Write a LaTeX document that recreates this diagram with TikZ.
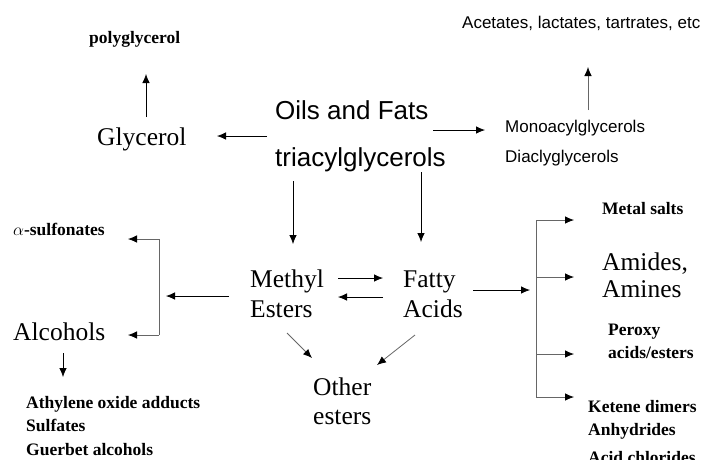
\documentclass[tikz,border=0pt]{standalone}
\usepackage{fontspec}
\setmainfont{Liberation Serif}
\newfontfamily\arialf{Liberation Sans}
\usetikzlibrary{arrows.meta}
\newcommand\lns[2]{\vtop{\baselineskip=#1\relax\lineskiplimit=-100pt\lineskip=0pt #2}}
\tikzset{
  lbl/.style={inner sep=0pt, anchor=base west},
  bigserif/.style={lbl, font=\fontsize{25.5}{30}\selectfont},
  bigsans/.style={lbl, font=\arialf\fontsize{26}{30}\selectfont},
  smallsans/.style={lbl, font=\arialf\fontsize{17}{22}\selectfont},
  smallbold/.style={lbl, font=\fontsize{17.5}{22.5}\selectfont\bfseries},
  arr/.style={line width=0.8pt, -{Latex[length=9pt,width=7.5pt,color=black]}},
  greyarr/.style={arr, draw=black!60},
  greyline/.style={line width=0.8pt, draw=black!60},
}
\begin{document}
\begin{tikzpicture}[x=1pt,y=-1pt]
\useasboundingbox[fill=white] (0,0) rectangle (701,459);
% labels
\node[smallbold] (poly) at (89,43) {polyglycerol};
\node[bigserif] (glyc) at (97,145) {Glycerol};
\node[bigsans] (oils) at (275,119) {Oils and Fats};
\node[bigsans] (tri) at (275,166) {triacylglycerols};
\node[smallsans] (acet) at (462,28) {Acetates, lactates, tartrates, etc};
\node[smallsans] (mono) at (505,132) {Monoacylglycerols};
\node[smallsans] (dia) at (505,162) {Diaclyglycerols};
\node[smallbold] (sulf) at (13,235) {$\alpha$-sulfonates};
\node[bigserif] (alc) at (13,340) {Alcohols};
\node[smallbold] (athy) at (26,408) {\lns{23.5pt}{\hbox{Athylene oxide adducts}\hbox{Sulfates}\hbox{Guerbet alcohols}}};
\node[bigserif] (meth) at (250,287) {\lns{30pt}{\hbox{Methyl}\hbox{Esters}}};
\node[bigserif] (fatty) at (403,287) {\lns{30pt}{\hbox{Fatty}\hbox{Acids}}};
\node[bigserif] (other) at (313,395) {\lns{29pt}{\hbox{Other}\hbox{esters}}};
\node[smallbold] (metal) at (602,214) {Metal salts};
\node[bigserif] (amid) at (602,270) {\lns{27.5pt}{\hbox{Amides,}\hbox{Amines}}};
\node[smallbold] (perox) at (608,335) {\lns{23pt}{\hbox{Peroxy}\hbox{acids/esters}}};
\node[smallbold] (ket) at (588,412) {\lns{23pt}{\hbox{Ketene dimers}\hbox{Anhydrides}\vskip5pt\hbox{Acid chlorides}}};
% connector end points
\coordinate (g1) at (146,117); \coordinate (g2) at (146,74);
\coordinate (o1) at (267,136); \coordinate (o2) at (217,136);
\coordinate (o3) at (433,130); \coordinate (o4) at (485,130);
\coordinate (m1) at (588,110); \coordinate (m2) at (588,67);
\coordinate (t1) at (293,181); \coordinate (t2) at (293,244);
\coordinate (t3) at (421,172); \coordinate (t4) at (421,242);
\coordinate (mf1) at (338,278); \coordinate (mf2) at (383,278);
\coordinate (fm1) at (383,297); \coordinate (fm2) at (338,297);
\coordinate (ml1) at (229,296); \coordinate (ml2) at (166,296);
\coordinate (lb1) at (159,239); \coordinate (lb2) at (159,335);
\coordinate (lt) at (128,239); \coordinate (lbot) at (128,335);
\coordinate (a1) at (63,353); \coordinate (a2) at (63,377);
\coordinate (mo1) at (287,333); \coordinate (mo2) at (312,358);
\coordinate (fo1) at (415,335); \coordinate (fo2) at (377,365);
\coordinate (fr1) at (473,290); \coordinate (fr2) at (530,290);
\coordinate (rb1) at (536,220); \coordinate (rb2) at (536,397);
\coordinate (r1) at (536,277); \coordinate (r2) at (536,354);
% connectors
\draw[arr] (g1) -- (g2);
\draw[arr] (o1) -- (o2);
\draw[arr] (o3) -- (o4);
\draw[greyarr] (m1) -- (m2);
\draw[arr] (t1) -- (t2);
\draw[arr] (t3) -- (t4);
\draw[arr] (mf1) -- (mf2);
\draw[arr] (fm1) -- (fm2);
\draw[arr] (ml1) -- (ml2);
\draw[greyline] (lb1) -- (lb2);
\draw[greyarr] (lb1) -- (lt);
\draw[greyarr] (lb2) -- (lbot);
\draw[arr] (a1) -- (a2);
\draw[greyarr] (mo1) -- (mo2);
\draw[greyarr] (fo1) -- (fo2);
\draw[arr] (fr1) -- (fr2);
\draw[greyline] (rb1) -- (rb2);
\draw[greyarr] (rb1) -- (rb1 -| 574,0);
\draw[greyarr] (r1) -- (r1 -| 574,0);
\draw[greyarr] (r2) -- (r2 -| 574,0);
\draw[greyarr] (rb2) -- (rb2 -| 574,0);
\end{tikzpicture}
\end{document}
